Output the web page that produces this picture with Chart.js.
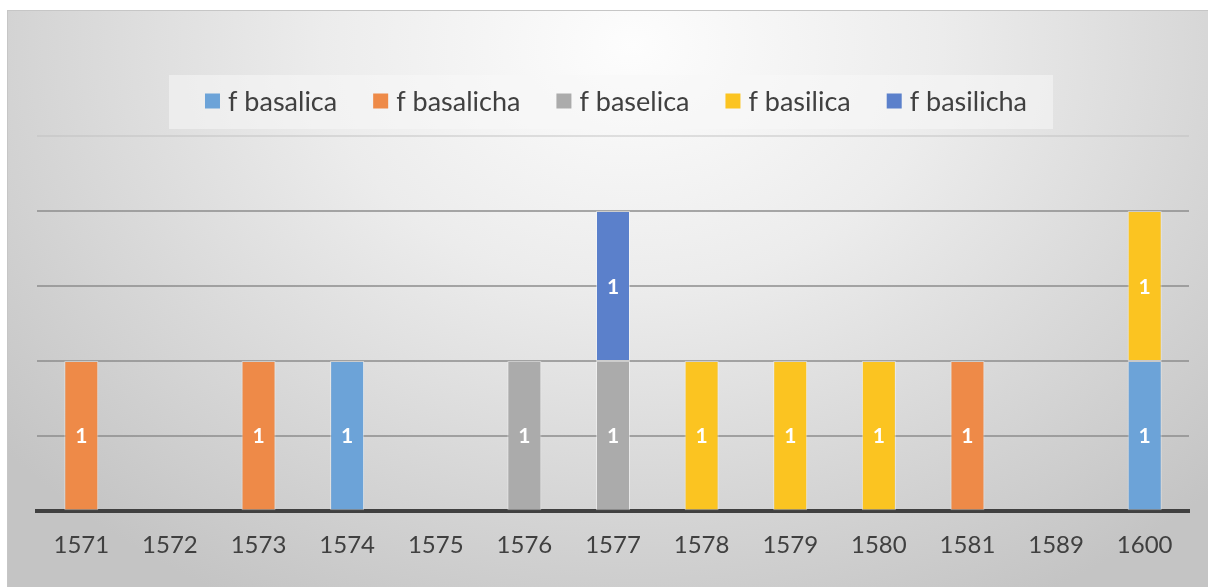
<!DOCTYPE html>
<html><head><meta charset="utf-8">
<script src="https://cdn.jsdelivr.net/npm/chart.js@4.4.1/dist/chart.umd.min.js"></script>
<style>
html,body{margin:0;padding:0;background:#fff;width:1208px;height:587px;overflow:hidden}
#wrap{position:absolute;left:7px;top:10px;width:1201px;height:577px;border-top:1px solid #c6c6c6;border-left:1px solid #c6c6c6;box-sizing:border-box;
background:radial-gradient(ellipse 68% 110% at 52% 6%, #fdfdfd 0%, #ececec 38%, #d6d6d6 72%, #c4c4c4 100%);}
#box{position:absolute;left:0;top:0;width:1200px;height:576px}
</style></head>
<body>
<div id="wrap"><div id="box"><canvas id="c"></canvas></div></div>
<script>
const categories = ['1571','1572','1573','1574','1575','1576','1577','1578','1579','1580','1581','1589','1600'];
const seriesNames = ['f basalica','f basalicha','f baselica','f basilica','f basilicha'];
const basalica  = [null,null,null,1,null,null,null,null,null,null,null,null,1];
const basalicha = [1,null,1,null,null,null,null,null,null,null,1,null,null];
const baselica  = [null,null,null,null,null,1,1,null,null,null,null,null,null];
const basilica  = [null,null,null,null,null,null,null,1,1,1,null,null,1];
const basilicha = [null,null,null,null,null,null,1,null,null,null,null,null,null];
const seriesValues = [basalica, basalicha, baselica, basilica, basilicha];
const colors = ['#6CA3D8','#EE8A48','#ABABAB','#FBC421','#5B80CB'];
const yTicks = [0,0.5,1,1.5,2,2.5];

const legendPlugin = {
  id:'customLegend',
  afterDraw(chart){
    const ctx = chart.ctx;
    const ca = chart.chartArea;
    ctx.save();
    ctx.font = '27px Lato';
    const sq = 15, gap = 8, spacing = 36;
    const widths = chart.data.datasets.map(d => ctx.measureText(d.label).width);
    const total = widths.reduce((a,w)=>a+sq+gap+w,0) + spacing*(widths.length-1);
    const cx = (ca.left+ca.right)/2 + 3;
    let x = cx - total/2;
    const cy = 90;
    ctx.fillStyle = 'rgba(248,248,248,0.55)';
    ctx.fillRect(x-36, 64, total+62, 54);
    ctx.textBaseline = 'middle';
    chart.data.datasets.forEach((d,i)=>{
      ctx.fillStyle = d.backgroundColor;
      ctx.fillRect(x, cy-sq/2, sq, sq);
      ctx.fillStyle = '#404040';
      ctx.fillText(d.label, x+sq+gap, cy+1);
      x += sq+gap+widths[i]+spacing;
    });
    ctx.restore();
  }
};

const labelPlugin = {
  id:'valueLabels',
  afterDatasetsDraw(chart){
    const ctx = chart.ctx;
    ctx.save();
    ctx.font = 'bold 21px Lato';
    ctx.fillStyle = '#ffffff';
    ctx.textAlign = 'center';
    ctx.textBaseline = 'middle';
    chart.data.datasets.forEach((d,i)=>{
      const meta = chart.getDatasetMeta(i);
      meta.data.forEach((el,j)=>{
        const v = d.data[j];
        if (v == null) return;
        ctx.fillText(String(v), el.x, (el.y+el.base)/2 + 1);
      });
    });
    ctx.restore();
  }
};

new Chart(document.getElementById('c'), {
  type:'bar',
  data:{
    labels: categories,
    datasets: seriesNames.map((n,i)=>({
      label:n, data:seriesValues[i], backgroundColor:colors[i],
      borderColor:'rgba(255,255,255,0.45)', borderWidth:1, borderSkipped:false,
      categoryPercentage:1, barPercentage:0.384
    }))
  },
  options:{
    responsive:true, maintainAspectRatio:false, animation:false, devicePixelRatio:1,
    layout:{padding:{left:29,right:19,top:125,bottom:7}},
    plugins:{legend:{display:false},tooltip:{enabled:false}},
    scales:{
      x:{stacked:true, z:1,
        grid:{display:false, drawTicks:false},
        border:{display:true,color:'#404040',width:4},
        ticks:{color:'#404040',font:{family:'Lato',size:24},padding:20}
      },
      y:{stacked:true, min:0, max:2.5,
        afterBuildTicks(scale){ scale.ticks = yTicks.map(v=>({value:v})); },
        ticks:{display:false},
        border:{display:false},
        grid:{drawTicks:false, lineWidth:2,
          color:(c)=> c.tick && c.tick.value===0 ? 'rgba(0,0,0,0)' : (c.tick && c.tick.value===2.5 ? 'rgba(190,190,190,0.45)' : 'rgba(140,140,140,0.75)')}
      }
    }
  },
  plugins:[legendPlugin,labelPlugin]
});
</script>
</body></html>
